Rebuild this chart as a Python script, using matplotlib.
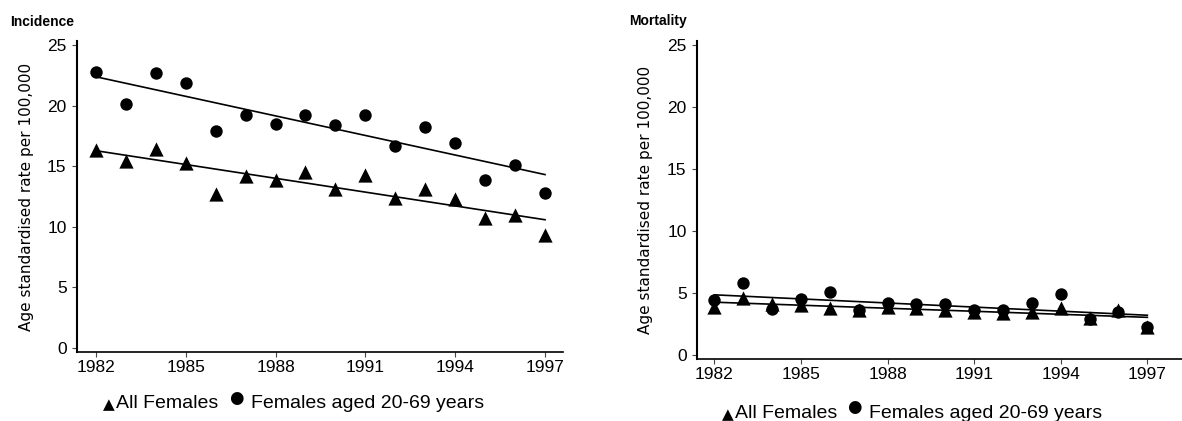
import numpy as np
import matplotlib
matplotlib.use("Agg")
import matplotlib.pyplot as plt

years = np.arange(1982, 1998)

# Incidence
inc_all = [16.3, 15.4, 16.4, 15.3, 12.7, 14.2, 13.9, 14.5, 13.1, 14.3, 12.4, 13.1, 12.3, 10.7, 11.0, 9.3]
inc_2069 = [22.8, 20.1, 22.7, 21.9, 17.9, 19.2, 18.5, 19.2, 18.4, 19.2, 16.7, 18.2, 16.9, 13.9, 15.1, 12.8]

# Mortality
mort_all = [3.9, 4.6, 4.1, 4.0, 3.8, 3.6, 3.9, 3.8, 3.6, 3.5, 3.4, 3.5, 3.8, 3.0, 3.6, 2.3]
mort_2069 = [4.4, 5.8, 3.7, 4.5, 5.1, 3.6, 4.2, 4.1, 4.1, 3.6, 3.6, 4.2, 4.9, 2.9, 3.5, 2.3]

yticks = [0, 5, 10, 15, 20, 25]
xticks = [1982, 1985, 1988, 1991, 1994, 1997]
ylab = "Age standardised rate per 100,000"

plt.rcParams['font.family'] = ['Liberation Sans', 'DejaVu Sans']

W, H = 1182, 421
fig = plt.figure(figsize=(W / 100, H / 100), dpi=100)


def px(x0, y0, x1, y1):
    return [x0 / W, 1 - y1 / H, (x1 - x0) / W, (y1 - y0) / H]


def panel(rect, all_f, f2069, xlim, ylim):
    ax = fig.add_axes(rect)
    ax.scatter(years, f2069, marker='o', s=80, color='black', zorder=3, linewidths=0)
    ax.scatter(years, all_f, marker='^', s=105, color='black', zorder=3, linewidths=0)
    for vals in (f2069, all_f):
        k, b = np.polyfit(years, vals, 1)
        ends = np.array([years[0], years[-1]])
        ax.plot(ends, k * ends + b, color='black', lw=1.2, zorder=2)
    ax.set_xlim(*xlim)
    ax.set_ylim(*ylim)
    ax.set_xticks(xticks)
    ax.set_yticks(yticks)
    ax.spines['top'].set_visible(False)
    ax.spines['right'].set_visible(False)
    ax.spines['left'].set_linewidth(1.5)
    ax.spines['bottom'].set_linewidth(1.2)
    ax.tick_params(direction='out', length=3.5, width=0.8, labelsize=12.5, color='#444444')
    ax.tick_params(axis='y', pad=4)
    ax.tick_params(axis='x', pad=2.5)
    ax.set_ylabel(ylab, family='DejaVu Sans', fontsize=11)
    return ax


ax1 = panel(px(77, 41, 563, 352), inc_all, inc_2069, (1981.37, 1997.6), (-0.33, 25.33))
ax2 = panel(px(697, 41, 1182, 359), mort_all, mort_2069, (1981.4, 1998.2), (-0.32, 25.32))
ax1.yaxis.set_label_coords((34 - 77) / 486, 0.5)
ax2.yaxis.set_label_coords((653 - 697) / 485, 0.5)

fig.text(10 / W, 1 - 22 / H, "Incidence", fontsize=10, fontweight='bold', va='center')
fig.text(629 / W, 1 - 21 / H, "Mortality", fontsize=10, fontweight='bold', va='center')


def legend(x_tri, x_txt1, x_circ, x_txt2, y, yc):
    fig.text(x_tri / W, 1 - (y + 1) / H, "\u25B2", family='DejaVu Sans', fontsize=11,
             ha='center', va='center')
    fig.text(x_txt1 / W, 1 - y / H, "All Females", fontsize=14, va='center')
    fig.text(x_circ / W, 1 - yc / H, "\u25CF", family='DejaVu Sans', fontsize=12,
             ha='center', va='center')
    fig.text(x_txt2 / W, 1 - y / H, "Females aged 20-69 years", fontsize=14, va='center')


legend(109, 116, 236, 251, 404, 398)
legend(728, 735, 854, 869, 414, 407)

fig.savefig("out.png", dpi=100)
